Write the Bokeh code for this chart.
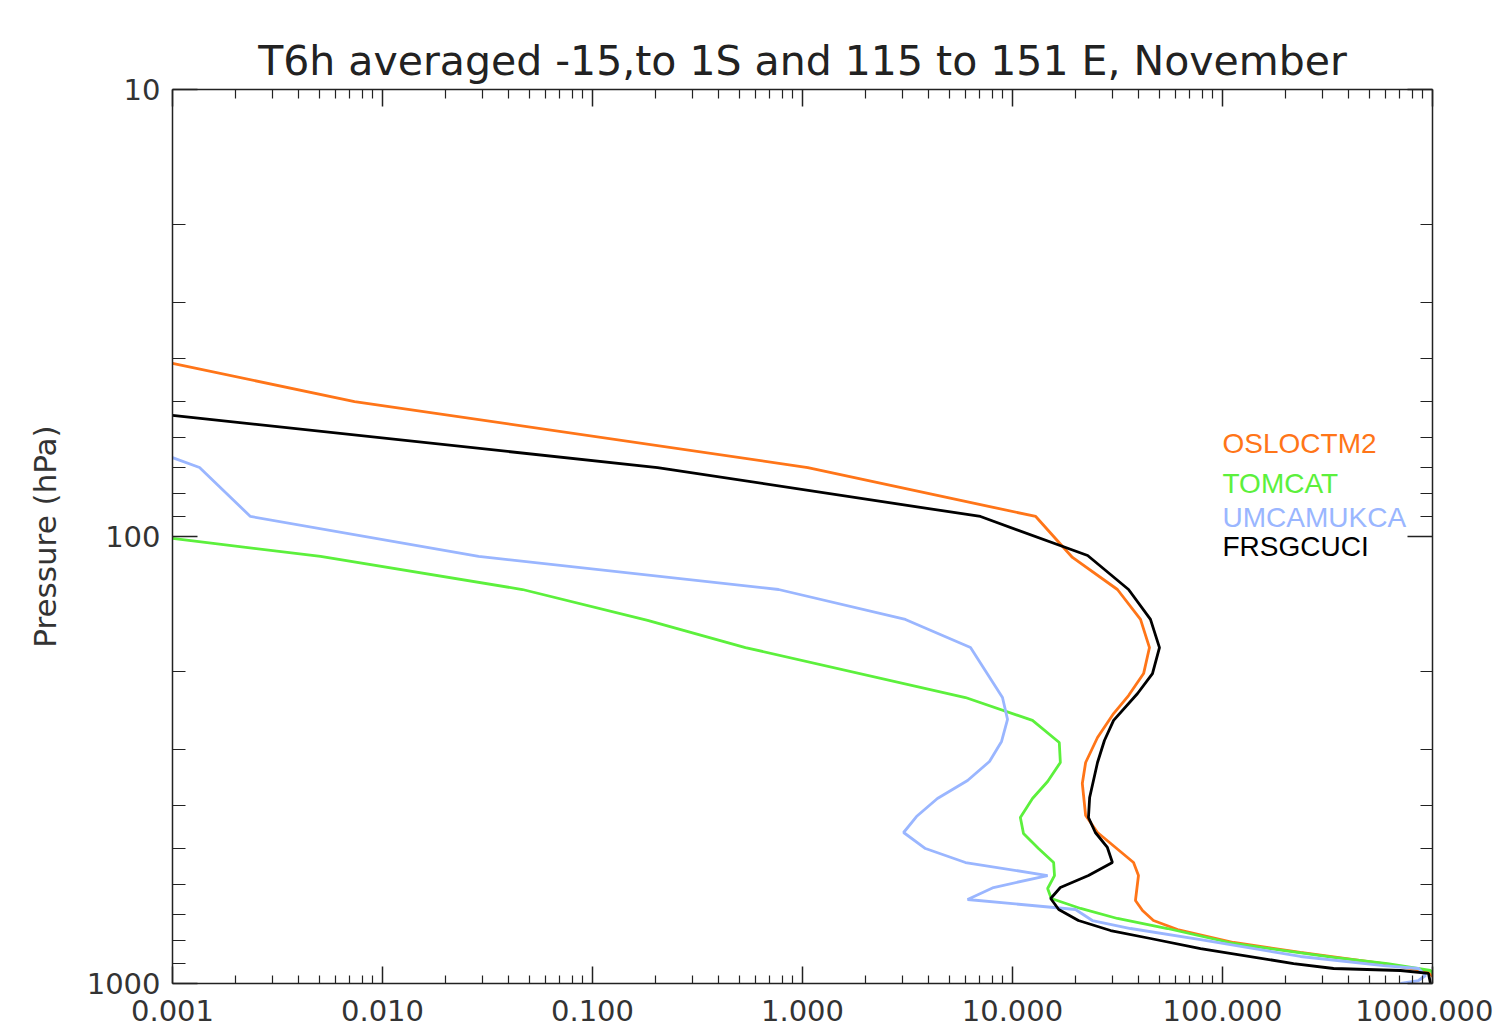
from bokeh.plotting import figure
from bokeh.models import (Range1d, LogAxis, FixedTicker, PrintfTickFormatter,
                          CustomJSTickFormatter, Label)
from bokeh.embed import file_html
from bokeh.resources import INLINE

# ---------------- data ----------------
series_names = ["OSLOCTM2", "TOMCAT", "UMCAMUKCA", "FRSGCUCI"]
series_colors = ["#FF7518", "#5CF03C", "#9AB6FF", "#000000"]

oslo_x = [0.001, 0.00736, 1.06, 12.9, 19.3, 31.6, 40.7, 44.9, 42.1, 35.7, 30.3, 25.4,
          22.3, 21.5, 22.3, 25.4, 37.7, 39.8, 38.5, 41.6, 46.9, 61.1, 113, 235, 584, 947, 1091]
oslo_p = [41.0, 49.9, 70.1, 90.2, 111.4, 131.4, 153.3, 177.2, 202.6, 226.9, 248.9, 281.6,
          320.3, 356.9, 421.0, 459.4, 536.2, 573.4, 652.0, 686.6, 722.9, 757.2, 809.6, 852.3,
          902.3, 940.2, 1000]

tomcat_x = [0.001, 0.00507, 0.0464, 0.183, 0.535, 5.97, 12.45, 16.7, 16.9, 14.7, 12.45,
            10.9, 11.28, 13.3, 15.7, 15.85, 14.7, 15.3, 21.1, 31.6, 54.7, 113, 338, 611,
            978, 1091]
tomcat_p = [101.0, 110.8, 131.4, 154.1, 177.2, 229.2, 257.9, 289.0, 320.3, 353.2, 385.6,
            425.3, 461.7, 498.9, 536.2, 573.4, 613.1, 645.3, 679.4, 715.4, 753.3, 813.8,
            874.5, 902.3, 935.2, 1000]

umca_x = [0.001, 0.001345, 0.00235, 0.0287, 0.769, 3.09, 6.31, 8.96, 9.47, 8.87, 7.77,
          6.11, 4.39, 3.49, 3.03, 3.85, 5.97, 14.7, 8.12, 6.11, 19.95, 24.0, 36.5, 78.6,
          235, 584, 858, 926, 858, 704]
umca_p = [66.6, 70.1, 90.2, 110.8, 131.4, 153.3, 177.2, 229.2, 256.6, 287.4, 318.7,
          351.4, 385.6, 423.1, 459.4, 498.9, 536.2, 573.4, 609.9, 648.7, 683.1, 722.9,
          753.3, 797.3, 870.1, 911.6, 925.6, 959.6, 984.7, 1000]

frsg_x = [0.001, 0.204, 7.04, 22.8, 35.7, 45.4, 50.1, 46.4, 39.4, 30.3, 27.4, 25.4, 23.3,
          23.0, 24.8, 28.3, 29.9, 23.0, 16.9, 15.2, 16.6, 20.6, 29.3, 45.4, 78.6, 218, 338,
          704, 957, 978]
frsg_p = [53.6, 70.1, 90.2, 110.3, 131.4, 153.3, 177.2, 202.6, 224.5, 257.9, 286.0, 320.3,
          383.6, 425.3, 459.4, 496.3, 536.2, 573.4, 609.9, 645.3, 683.1, 722.9, 761.1, 793.1,
          835.1, 902.3, 925.6, 935.2, 949.7, 1000]

x_ticks = [0.001, 0.01, 0.1, 1, 10, 100, 1000]
x_minor = [k * 10.0 ** e for e in range(-3, 3) for k in range(2, 10)]
y_ticks = [10, 100, 1000]
y_minor = [k * 10.0 ** e for e in range(1, 3) for k in range(2, 10)]

legend_x = 100
legend_p = [65.2, 80.1, 95.5, 110.8]

title_text = "T6h averaged -15,to 1S and 115 to 151 E, November"

# ---------------- figure ----------------
p = figure(width=1493, height=1033, x_axis_type="log", y_axis_type="log",
           x_range=Range1d(0.001, 1000), y_range=Range1d(1000, 10),
           output_backend="svg", toolbar_location=None,
           min_border_left=172, min_border_right=61, min_border_top=89,
           min_border_bottom=50)
p.outline_line_color = None
p.xgrid.visible = False
p.ygrid.visible = False
p.background_fill_color = "white"
p.border_fill_color = "white"

p.title.text = title_text
p.title.align = "center"
p.title.text_font = "DejaVu Sans"
p.title.text_font_size = "41px"
p.title.text_font_style = "normal"
p.title.text_color = "#222222"
p.title.standoff = 10

AX_COL = "#222222"

def style_axis(ax, major, minor, ticks, minor_ticks, labels=True, fmt=None):
    ax.ticker = FixedTicker(ticks=ticks, minor_ticks=minor_ticks)
    ax.major_tick_in = major
    ax.major_tick_out = 0
    ax.minor_tick_in = minor
    ax.minor_tick_out = 0
    ax.axis_line_color = AX_COL
    ax.axis_line_width = 1.5
    ax.major_tick_line_color = AX_COL
    ax.major_tick_line_width = 1.5
    ax.minor_tick_line_color = AX_COL
    ax.minor_tick_line_width = 1.2
    if labels:
        ax.formatter = fmt
        ax.major_label_text_font = "DejaVu Sans"
        ax.major_label_text_font_size = "29px"
        ax.major_label_text_color = "#333333"
    else:
        ax.formatter = CustomJSTickFormatter(code="return ''")
        ax.major_label_standoff = 0
        ax.major_label_text_font_size = "1px"

xa = p.xaxis[0]
style_axis(xa, 17, 8, x_ticks, x_minor, True, PrintfTickFormatter(format="%.3f"))
xa.major_label_standoff = 16

ya = p.yaxis[0]
style_axis(ya, 25, 13, y_ticks, y_minor, True, PrintfTickFormatter(format="%d"))
ya.major_label_standoff = 12
ya.axis_label = "Pressure (hPa)"
ya.axis_label_text_font = "DejaVu Sans"
ya.axis_label_text_font_size = "31px"
ya.axis_label_text_font_style = "normal"
ya.axis_label_text_color = "#333333"
ya.axis_label_standoff = 21

top = LogAxis()
style_axis(top, 17, 9, x_ticks, x_minor, False)
p.add_layout(top, "above")

right = LogAxis()
style_axis(right, 25, 12, y_ticks, y_minor, False)
p.add_layout(right, "right")

# ---------------- lines ----------------
all_x = [oslo_x, tomcat_x, umca_x, frsg_x]
all_p = [oslo_p, tomcat_p, umca_p, frsg_p]
for xs, ps, col in zip(all_x, all_p, series_colors):
    p.line(xs, ps, line_color=col, line_width=2.8)

for name, col, lp in zip(series_names, series_colors, legend_p):
    p.add_layout(Label(x=legend_x, y=lp, y_offset=10, text=name, text_color=col,
                       text_font="Liberation Sans", text_font_size="28px",
                       text_baseline="alphabetic", text_align="left"))

open("out.html", "w").write(file_html(p, INLINE))
